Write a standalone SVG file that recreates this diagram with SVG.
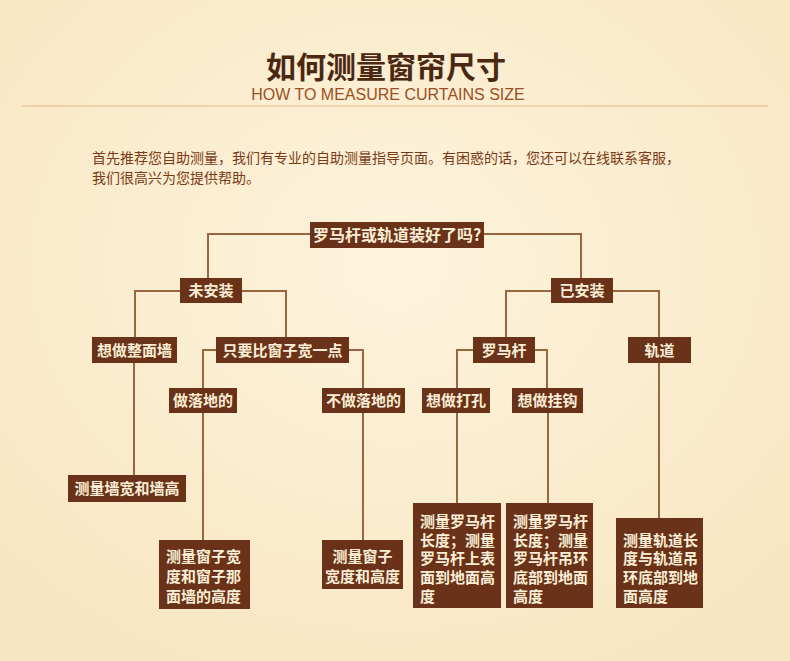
<svg xmlns="http://www.w3.org/2000/svg" width="790" height="661" viewBox="0 0 790 661" xml:lang="zh-CN">
<defs>
<radialGradient id="bg" cx="50%" cy="40%" r="70%">
<stop offset="0" stop-color="#fdf3dc"/>
<stop offset="1" stop-color="#f8e6c2"/>
</radialGradient>
</defs>
<style>
.box{fill:#6a3218;}
.t{font-family:"Noto Sans CJK SC","Noto Sans",sans-serif;font-size:15px;font-weight:bold;fill:#fbeed6;}
.c{text-anchor:middle;}
.conn path{fill:none;stroke:#9a6640;stroke-width:2;}
.intro{font-family:"Noto Sans CJK SC",sans-serif;font-size:14px;fill:#7b3a17;}
</style>
<rect width="790" height="661" fill="url(#bg)"/>
<g id="title">
<text x="386" y="78" text-anchor="middle" style="font-family:'Noto Sans CJK SC',sans-serif;font-size:30px;font-weight:bold;fill:#4b2812;">如何测量窗帘尺寸</text>
<text x="388" y="100" text-anchor="middle" style="font-family:'Liberation Sans',Arial,sans-serif;font-size:16px;fill:#9c4f24;">HOW TO MEASURE CURTAINS SIZE</text>
<line x1="22" y1="106" x2="768" y2="106" stroke="#e2b98a" stroke-width="1"/>
</g>
<g id="intro">
<text class="intro" x="92" y="163">首先推荐您自助测量，我们有专业的自助测量指导页面。有困惑的话，您还可以在线联系客服，</text>
<text class="intro" x="92" y="183">我们很高兴为您提供帮助。</text>
</g>
<g class="conn" id="connectors">
<path d="M310,234 H208 V278"/>
<path d="M484,234 H581 V278"/>
<path d="M180,291 H135 V337"/>
<path d="M242,291 H286 V337"/>
<path d="M551,291 H506 V337"/>
<path d="M613,291 H659 V337"/>
<path d="M134,363 V475"/>
<path d="M216,350 H203 V388"/>
<path d="M349,350 H363 V388"/>
<path d="M473,350 H457 V388"/>
<path d="M535,350 H547 V388"/>
<path d="M203,413 V540"/>
<path d="M363,413 V540"/>
<path d="M457,413 V503"/>
<path d="M548,413 V503"/>
<path d="M659,363 V518"/>
</g>
<g id="n-q"><rect class="box" x="310" y="222" width="174" height="26"/><text class="t c" x="397" y="241" style="font-size:16px">罗马杆或轨道装好了吗?</text></g>
<g id="n-notinstalled"><rect class="box" x="180" y="278" width="62" height="25"/><text class="t c" x="211" y="296">未安装</text></g>
<g id="n-installed"><rect class="box" x="551" y="278" width="62" height="25"/><text class="t c" x="582" y="296">已安装</text></g>
<g id="n-wall"><rect class="box" x="92" y="337" width="85" height="26"/><text class="t c" x="134.5" y="355.5">想做整面墙</text></g>
<g id="n-wider"><rect class="box" x="216" y="337" width="133" height="26"/><text class="t c" x="282.5" y="355.5">只要比窗子宽一点</text></g>
<g id="n-rod"><rect class="box" x="473" y="337" width="62" height="26"/><text class="t c" x="504" y="355.5">罗马杆</text></g>
<g id="n-track"><rect class="box" x="628" y="337" width="63" height="26"/><text class="t c" x="659.5" y="355.5">轨道</text></g>
<g id="n-floor"><rect class="box" x="169" y="388" width="68" height="25"/><text class="t c" x="203" y="406">做落地的</text></g>
<g id="n-nofloor"><rect class="box" x="322" y="388" width="83" height="25"/><text class="t c" x="363.5" y="406">不做落地的</text></g>
<g id="n-punch"><rect class="box" x="422" y="388" width="68" height="25"/><text class="t c" x="456" y="406">想做打孔</text></g>
<g id="n-hook"><rect class="box" x="512" y="388" width="71" height="25"/><text class="t c" x="547.5" y="406">想做挂钩</text></g>
<g id="n-m1"><rect class="box" x="68" y="475" width="118" height="27"/><text class="t c" x="127" y="494">测量墙宽和墙高</text></g>
<g id="n-m2"><rect class="box" x="159" y="540" width="91" height="69"/>
<text class="t"><tspan x="166" y="562">测量窗子宽</tspan><tspan x="166" y="582">度和窗子那</tspan><tspan x="166" y="601.5">面墙的高度</tspan></text></g>
<g id="n-m3"><rect class="box" x="322" y="540" width="81" height="49"/>
<text class="t c"><tspan x="362.5" y="561.5">测量窗子</tspan><tspan x="362.5" y="581.5">宽度和高度</tspan></text></g>
<g id="n-m4"><rect class="box" x="413" y="503" width="88" height="105"/>
<text class="t"><tspan x="420" y="526.5">测量罗马杆</tspan><tspan x="420" y="545.5">长度；测量</tspan><tspan x="420" y="564">罗马杆上表</tspan><tspan x="420" y="582.5">面到地面高</tspan><tspan x="420" y="601.5">度</tspan></text></g>
<g id="n-m5"><rect class="box" x="506" y="503" width="87" height="105"/>
<text class="t"><tspan x="513" y="526.5">测量罗马杆</tspan><tspan x="513" y="545.5">长度；测量</tspan><tspan x="513" y="564">罗马杆吊环</tspan><tspan x="513" y="582.5">底部到地面</tspan><tspan x="513" y="601.5">高度</tspan></text></g>
<g id="n-m6"><rect class="box" x="616" y="518" width="87" height="90"/>
<text class="t"><tspan x="623" y="545.5">测量轨道长</tspan><tspan x="623" y="564">度与轨道吊</tspan><tspan x="623" y="582.5">环底部到地</tspan><tspan x="623" y="601.5">面高度</tspan></text></g>
</svg>
